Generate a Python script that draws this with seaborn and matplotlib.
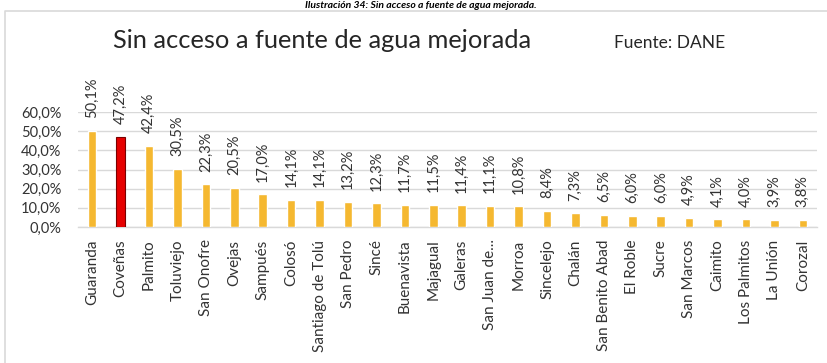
import matplotlib
matplotlib.use("Agg")
import matplotlib.pyplot as plt
import matplotlib.ticker as mticker
from matplotlib.lines import Line2D
import seaborn as sns

municipios = ["Guaranda", "Coveñas", "Palmito", "Toluviejo", "San Onofre", "Ovejas",
              "Sampués", "Colosó", "Santiago de Tolú", "San Pedro", "Sincé", "Buenavista",
              "Majagual", "Galeras", "San Juan de...", "Morroa", "Sincelejo", "Chalán",
              "San Benito Abad", "El Roble", "Sucre", "San Marcos", "Caimito",
              "Los Palmitos", "La Unión", "Corozal"]
valores = [50.1, 47.2, 42.4, 30.5, 22.3, 20.5, 17.0, 14.1, 14.1, 13.2, 12.3, 11.7,
           11.5, 11.4, 11.1, 10.8, 8.4, 7.3, 6.5, 6.0, 6.0, 4.9, 4.1, 4.0, 3.9, 3.8]
destacado = "Coveñas"

titulo = "Sin acceso a fuente de agua mejorada"
fuente = "Fuente: DANE"
leyenda_sup = "Ilustración 34: Sin acceso a fuente de agua mejorada."

ORANGE = "#F5B830"
RED = "#E60000"
TXT = "#333333"
GRID = "#D9D9D9"

sns.set_theme(style="white")
plt.rcParams["font.family"] = ["Lato", "DejaVu Sans"]

fig = plt.figure(figsize=(8.27, 3.63), dpi=100)
ax = fig.add_axes([78 / 827, 1 - 227 / 363, (817 - 78) / 827, (227 - 112) / 363])

fracs = [v / 100 for v in valores]
colores = [RED if m == destacado else ORANGE for m in municipios]
sns.barplot(x=municipios, y=fracs, hue=municipios, palette=colores, legend=False,
            width=0.3, ax=ax, saturation=1, zorder=3)
for patch, m in zip(ax.patches, municipios):
    if m == destacado:
        patch.set_edgecolor("#7a0000")
        patch.set_linewidth(0.8)

ax.set_ylim(0, 0.6)
ax.set_xlim(-0.5, len(municipios) - 0.5)
ax.set_yticks([0, 0.1, 0.2, 0.3, 0.4, 0.5, 0.6])
ax.yaxis.set_major_formatter(mticker.FuncFormatter(lambda v, p: f"{v*100:.1f}%".replace(".", ",")))
ax.grid(axis="y", color=GRID, linewidth=1, zorder=0)
ax.grid(axis="x", visible=False)
for s in ["top", "right", "left"]:
    ax.spines[s].set_visible(False)
ax.spines["bottom"].set_color(GRID)
ax.spines["bottom"].set_linewidth(1)
ax.tick_params(axis="y", length=0, labelsize=10.5, labelcolor=TXT, pad=12)
ax.tick_params(axis="x", length=0, labelsize=11, labelcolor=TXT, pad=9)
for lab in ax.get_xticklabels():
    lab.set_rotation(90)
ax.set_xlabel("")
ax.set_ylabel("")

for i, (f, v) in enumerate(zip(fracs, valores)):
    ax.annotate(f"{v:.1f}%".replace(".", ","), (i, f), xytext=(0, 9),
                textcoords="offset points", rotation=90, ha="center", va="bottom",
                fontsize=10.5, color=TXT, annotation_clip=False)

fig.text(113 / 827, 1 - 48 / 363, titulo, fontsize=18.3, color="#262626",
         ha="left", va="baseline")
fig.text(614 / 827, 1 - 48 / 363, fuente, fontsize=12.5, color="#262626",
         ha="left", va="baseline")
fig.text(421 / 827, 1 - 0.5 / 363, leyenda_sup, fontsize=7.5, color="black",
         ha="center", va="top", fontweight="bold", fontstyle="italic")

fig.add_artist(Line2D([5 / 827, 5 / 827, 1.0], [0.0, 1 - 11 / 363, 1 - 11 / 363],
                      transform=fig.transFigure, color=GRID, linewidth=1.2))

fig.savefig("out.png", dpi=100)
